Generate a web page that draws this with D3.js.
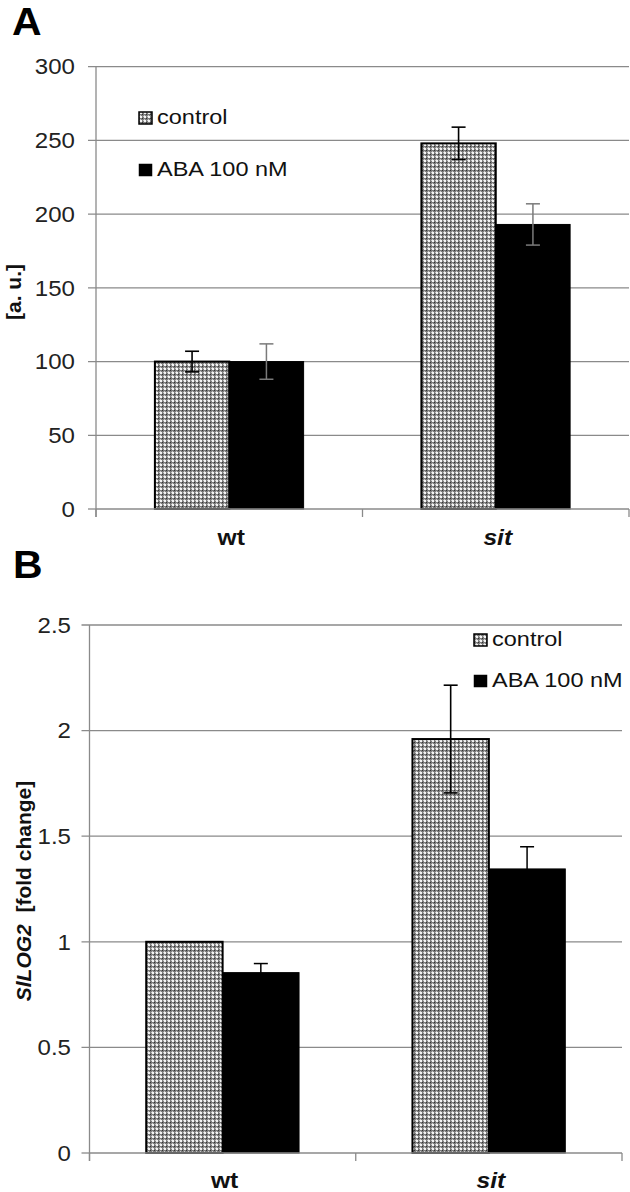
<!DOCTYPE html>
<html><head><meta charset="utf-8">
<script src="https://cdn.jsdelivr.net/npm/d3@7"></script>
<style>body{margin:0;background:#fff}svg{display:block}text{font-family:"Liberation Sans",Arial,sans-serif}</style>
</head><body>
<svg id="c" width="630" height="1192"></svg>
<script>
// ---- data ----
const categories = ["wt", "sit"];
const seriesNames = ["control", "ABA 100 nM"];
const aControl = [100, 248];
const aControlErr = [7, 11];
const aABA = [100, 193];
const aABAErr = [12, 14];
const aTicks = [0, 50, 100, 150, 200, 250, 300];
const bControl = [1.0, 1.96];
const bControlErr = [0, 0.255];
const bABA = [0.854, 1.345];
const bABAErr = [0.043, 0.105];
const bTicks = [0, 0.5, 1, 1.5, 2, 2.5];
const bTickLabels = ["0", "0.5", "1", "1.5", "2", "2.5"];

const svg = d3.select("#c");
const SX = 1.12;
const defs = svg.append("defs");
const pat = defs.append("pattern").attr("id","dots").attr("patternUnits","userSpaceOnUse")
  .attr("width",4).attr("height",4);
pat.append("rect").attr("width",4).attr("height",4).attr("fill","#7c7c7c");
pat.append("rect").attr("x",0).attr("y",0).attr("width",2).attr("height",2).attr("fill","#f4f4f4");
pat.append("rect").attr("x",2).attr("y",2).attr("width",1).attr("height",1).attr("fill","#333");
pat.append("rect").attr("x",3).attr("y",0).attr("width",1).attr("height",1).attr("fill","#c8c8c8");
pat.append("rect").attr("x",0).attr("y",3).attr("width",1).attr("height",1).attr("fill","#c8c8c8");

function stext(g, x, y, str, opts) {
  const t = g.append("text").attr("transform", `translate(${x},${y}) scale(${SX},1)`)
    .attr("font-size", opts.size || 21)
    .attr("text-anchor", opts.anchor || "start")
    .attr("fill", opts.fill || "#111");
  if (opts.weight) t.attr("font-weight", opts.weight);
  if (opts.style) t.attr("font-style", opts.style);
  if (opts.dy) t.attr("dy", opts.dy);
  t.text(str);
  return t;
}

function panel(cfg) {
  const g = svg.append("g");
  const y = d3.scaleLinear().domain([0, cfg.max]).range([cfg.y0, cfg.y1]);
  const x = d3.scaleBand().domain(categories).range([cfg.x0, cfg.x1]);
  const bw = x.bandwidth() * cfg.frac / 2;
  // gridlines + tick marks
  g.selectAll(".grid").data(cfg.ticks.slice(1)).join("line")
    .attr("x1", cfg.x0 - 8).attr("x2", cfg.x1)
    .attr("y1", d => y(d)).attr("y2", d => y(d))
    .attr("stroke", "#8a8a8a").attr("stroke-width", 1.3);
  g.append("line").attr("x1", cfg.x0 - 8).attr("x2", cfg.x0).attr("y1", y(0)).attr("y2", y(0))
    .attr("stroke", "#8a8a8a").attr("stroke-width", 1.3);
  // tick labels
  cfg.ticks.forEach((d, i) => {
    stext(g, cfg.labelRight, y(d), cfg.tickLabels[i], {anchor: "end", dy: "0.36em", size: 21.5, fill: "#222"});
  });
  // bars
  g.selectAll(".ctrl").data(categories).join("rect")
    .attr("x", d => x(d) + x.bandwidth()/2 - bw)
    .attr("width", bw)
    .attr("y", (d, i) => y(cfg.control[i]))
    .attr("height", (d, i) => y(0) - y(cfg.control[i]))
    .attr("fill", "url(#dots)").attr("stroke", "#000").attr("stroke-width", 2);
  g.selectAll(".aba").data(categories).join("rect")
    .attr("x", d => x(d) + x.bandwidth()/2)
    .attr("width", bw)
    .attr("y", (d, i) => y(cfg.aba[i]))
    .attr("height", (d, i) => y(0) - y(cfg.aba[i]))
    .attr("fill", "#000").attr("stroke", "#000").attr("stroke-width", 1);
  // error bars
  function err(vals, errs, offset, color, sw) {
    categories.forEach((c, i) => {
      if (!errs[i]) return;
      const cx = x(c) + x.bandwidth()/2 + offset;
      const t = y(vals[i] + errs[i]), b = y(vals[i] - errs[i]);
      g.append("line").attr("x1", cx).attr("x2", cx).attr("y1", t).attr("y2", b)
        .attr("stroke", color).attr("stroke-width", sw);
      [t, b].forEach(v => g.append("line").attr("x1", cx - 7).attr("x2", cx + 7)
        .attr("y1", v).attr("y2", v).attr("stroke", color).attr("stroke-width", sw));
    });
  }
  err(cfg.control, cfg.controlErr, -bw/2, "#000", 1.6);
  err(cfg.aba, cfg.abaErr, bw/2, cfg.abaErrColor, 1.5);
  // axes
  g.append("line").attr("x1", cfg.x0).attr("x2", cfg.x0).attr("y1", y(cfg.max)).attr("y2", y(0) + 8)
    .attr("stroke", "#8a8a8a").attr("stroke-width", 1.3);
  g.append("line").attr("x1", cfg.x0).attr("x2", cfg.x1).attr("y1", y(0)).attr("y2", y(0))
    .attr("stroke", "#8a8a8a").attr("stroke-width", 1.3);
  [cfg.x0, x("sit"), cfg.x1].forEach(v => g.append("line").attr("x1", v).attr("x2", v)
    .attr("y1", y(0)).attr("y2", y(0) + 8).attr("stroke", "#8a8a8a").attr("stroke-width", 1.3));
  // category labels
  categories.forEach((c, i) => {
    stext(g, x(c) + x.bandwidth()/2 + 2, cfg.catBaseline, c,
      {anchor: "middle", weight: "bold", style: i === 1 ? "italic" : null, size: 22});
  });
  // legend
  seriesNames.forEach((s, i) => {
    const ly = cfg.legY[i];
    g.append("rect").attr("x", cfg.legX).attr("y", ly - 12).attr("width", 13).attr("height", 12)
      .attr("fill", i === 0 ? "url(#dots)" : "#000").attr("stroke", "#000").attr("stroke-width", i === 0 ? 1.5 : 0.5);
    stext(g, cfg.legX + 18, ly, s, {});
  });
  // panel letter
  stext(g, cfg.letterX, cfg.letterY, cfg.letter, {weight: "bold", size: 39, anchor: "start", fill: "#000"})
    .attr("transform", `translate(${cfg.letterX},${cfg.letterY}) scale(1.05,1)`);
  // y label
  const yl = g.append("text").attr("transform", `translate(${cfg.ylabX},${cfg.ylabY}) rotate(-90)`)
    .attr("text-anchor", "middle").attr("font-size", 21).attr("font-weight", "bold").attr("fill", "#111");
  cfg.ylab.forEach(p => yl.append("tspan").attr("font-style", p.italic ? "italic" : null).text(p.t));
}

panel({
  max: 300, ticks: aTicks, tickLabels: aTicks.map(String),
  y0: 509, y1: 66.7, x0: 96, x1: 629, frac: 0.558, labelRight: 75,
  control: aControl, controlErr: aControlErr, aba: aABA, abaErr: aABAErr, abaErrColor: "#7a7a7a",
  catBaseline: 545, legX: 139, legY: [124, 176],
  letter: "A", letterX: 12, letterY: 35,
  ylabX: 21, ylabY: 292, ylab: [{t: "[a. u.]"}]
});
panel({
  max: 2.5, ticks: bTicks, tickLabels: bTickLabels,
  y0: 1153, y1: 625, x0: 89.5, x1: 622, frac: 0.574, labelRight: 71,
  control: bControl, controlErr: bControlErr, aba: bABA, abaErr: bABAErr, abaErrColor: "#000",
  catBaseline: 1188, legX: 474, legY: [646, 687],
  letter: "B", letterX: 13, letterY: 578,
  ylabX: 31, ylabY: 891, ylab: [{t: "SlLOG2", italic: true}, {t: "\u00a0 [fold change]"}]
});
</script>
</body></html>
